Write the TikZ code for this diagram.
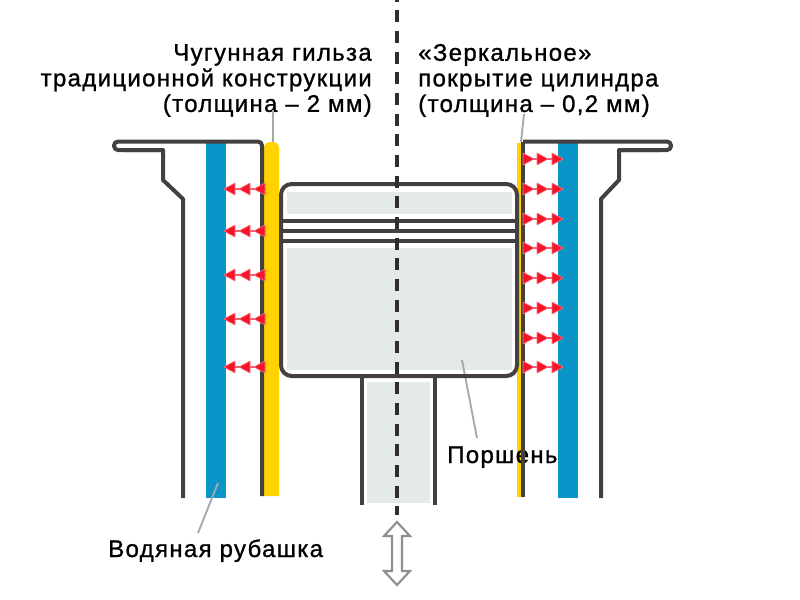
\documentclass[tikz,border=0pt]{standalone}
\usepackage{fontspec}
\setmainfont{Liberation Sans}[LetterSpace=5.5,FakeBold=1]
\definecolor{wallc}{HTML}{454040}
\definecolor{bluec}{HTML}{0A94C8}
\definecolor{yellowc}{HTML}{FFD200}
\definecolor{pistonc}{HTML}{E4EAE8}
\definecolor{leaderc}{HTML}{A8A8A8}
\definecolor{redc}{HTML}{F5142A}
\tikzset{
  wall/.style={draw=wallc,line width=3pt,line join=round},
  ring/.style={draw=wallc,line width=2.6pt},
  leader/.style={draw=leaderc,line width=1.4pt},
  lbl/.style={inner sep=0pt,font=\fontsize{18pt}{19.2pt}\selectfont},
  heat/.style={fill=redc,draw=redc!60,line width=0.5pt,line join=round},
}
\newcommand{\larrows}[1]{%
  \draw[redc!70,line width=2pt] (226,#1) -- (266,#1);
  \foreach \xx in {224,239,254}{\filldraw[heat] (\xx,#1) -- (\xx+11,#1-6) -- (\xx+11,#1+6) -- cycle;}}
\newcommand{\rarrows}[1]{%
  \draw[redc!70,line width=2pt] (523,#1) -- (562,#1);
  \foreach \xx in {523,537,552}{\filldraw[heat] (\xx+11,#1) -- (\xx,#1-6) -- (\xx,#1+6) -- cycle;}}
\begin{document}
\begin{tikzpicture}[x=0.75pt,y=-0.75pt]
\useasboundingbox (0,0) rectangle (800,600);
% piston and rod fills
\fill[pistonc] (287,192) rectangle (512,214);
\fill[pistonc] (287,248) rectangle (512,370);
\fill[pistonc] (367,382) rectangle (430,503);
% blue and yellow
\fill[bluec] (206,141) rectangle (226,498);
\fill[bluec] (558,141) rectangle (578,498);
\fill[yellowc,rounded corners=4pt] (264,496) -- (264,142) -- (279,142) -- (279,496);
\fill[yellowc] (264,480) rectangle (279,496);
\fill[yellowc] (517,143) rectangle (522,497);
% labels
\node[lbl,anchor=east,align=right] (lblcast) at (372,80.5) {Чугунная гильза\\традиционной конструкции\\(толщина – 2 мм)};
\node[lbl,anchor=west,align=left] (lblmirror) at (418,80.5) {«Зеркальное»\\покрытие цилиндра\\(толщина – 0,2 мм)};
\node[lbl,anchor=base west] (lblpiston) at (447,463) {Поршень};
\node[lbl,anchor=base west] (lblwater) at (108,557) {Водяная рубашка};
% leaders
\coordinate (castEnd) at (273,142);
\coordinate (castStart) at (273,110);
\coordinate (mirrorEnd) at (521,142);
\coordinate (mirrorStart) at (524,114);
\coordinate (pistonEnd) at (462,360);
\coordinate (pistonStart) at (477,438);
\coordinate (waterEnd) at (218,483);
\coordinate (waterStart) at (198,533);
\draw[leader] (castStart) -- (castEnd);
\draw[leader] (mirrorStart) -- (mirrorEnd);
\draw[leader] (pistonStart) -- (pistonEnd);
\draw[leader] (waterStart) -- (waterEnd);
% walls
\draw[wall,rounded corners=3pt] (262,496) -- (262,141.5) -- (114,141.5) -- (114,150) -- (163,150);
\draw[wall] (125,150) -- (163,150) -- (163,180) -- (183,199) -- (183,498);
\draw[wall] (523,497) -- (523,141.5);
\draw[wall,rounded corners=3pt] (523,141.5) -- (671,141.5) -- (671,150) -- (619,150);
\draw[wall] (660,150) -- (619,150) -- (619,180) -- (601,199) -- (601,498);
% piston
\draw[wall,rounded corners=8pt] (281,184) rectangle (517,376);
\draw[ring] (281,221) -- (517,221);
\draw[ring] (281,231) -- (517,231);
\draw[ring] (281,241) -- (517,241);
% rod
\draw[wall] (361.5,376) -- (361.5,505);
\draw[wall] (434.5,376) -- (434.5,505);
% heat arrows
\larrows{189}\larrows{231}\larrows{275}\larrows{319}\larrows{367}
\rarrows{159}\rarrows{189}\rarrows{219}\rarrows{248}\rarrows{278}\rarrows{308}\rarrows{338}\rarrows{367}
% axis
\draw[draw=wallc!70!black,line width=3pt,dash pattern=on 9pt off 6.5pt,dash phase=7.7pt] (397,0) -- (397,515);
% motion arrow
\draw[draw=leaderc!85!black,fill=white,line width=1.6pt,line join=miter]
  (397,522) -- (410,536) -- (402,536) -- (402,571) -- (410,571) -- (397,585) -- (384,571) -- (392,571) -- (392,536) -- (384,536) -- cycle;
\end{tikzpicture}
\end{document}
